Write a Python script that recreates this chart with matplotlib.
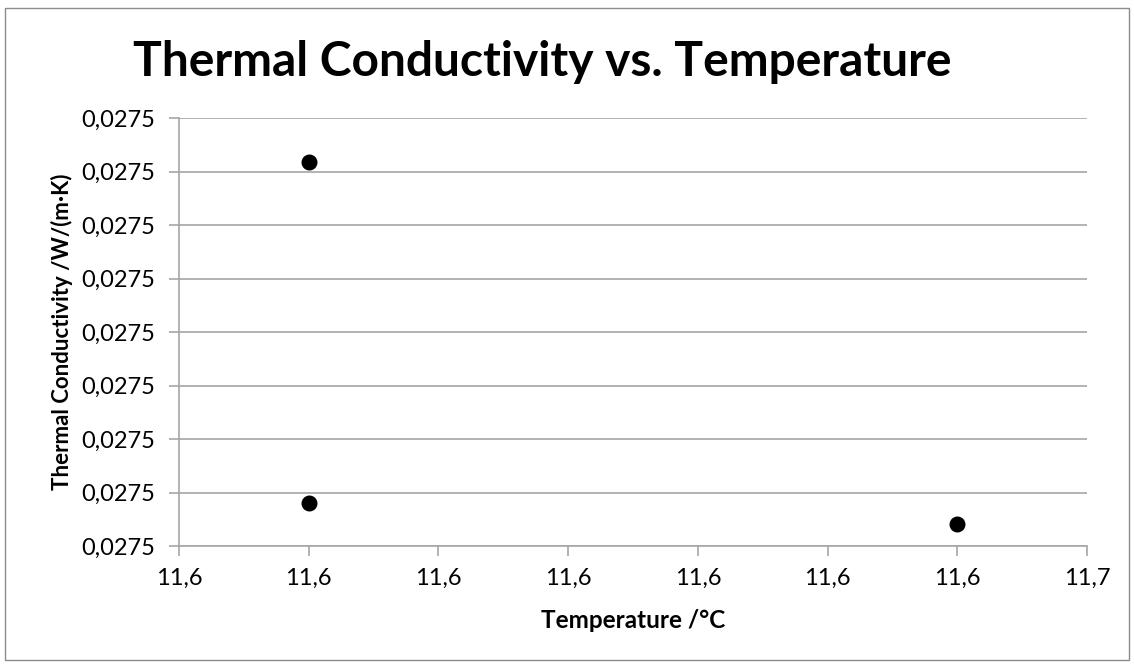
import matplotlib
matplotlib.use("Agg")
import matplotlib.pyplot as plt
from matplotlib.patches import Rectangle

plt.rcParams["font.family"] = ["Lato", "DejaVu Sans"]

# data (true values differ only past the displayed decimals)
temperature = [11.6465, 11.6465, 11.6490]
conductivity = [0.02750718, 0.02750080, 0.02750041]

x_ticks = [11.6460, 11.6465, 11.6470, 11.6475, 11.6480, 11.6485, 11.6490, 11.6495]
x_ticklabels = ["11,6", "11,6", "11,6", "11,6", "11,6", "11,6", "11,6", "11,7"]
y_ticks = [0.027500 + i * 0.000001 for i in range(9)]
y_ticklabels = ["0,0275"] * 9

grid_col = "#a6a6a6"

fig = plt.figure(figsize=(11.34, 6.66), dpi=100)
ax = fig.add_axes([179 / 1134, 1 - 546 / 666, (1087 - 179) / 1134, (546 - 118) / 666])

ax.scatter(temperature, conductivity, s=110, color="black", zorder=3, clip_on=False)

ax.set_xlim(x_ticks[0], x_ticks[-1])
ax.set_ylim(y_ticks[0], y_ticks[-1])
ax.set_xticks(x_ticks)
ax.set_xticklabels(x_ticklabels)
ax.set_yticks(y_ticks)
ax.set_yticklabels(y_ticklabels)

ax.grid(axis="y", color=grid_col, linewidth=1.2)
ax.set_axisbelow(True)
for side in ["top", "right"]:
    ax.spines[side].set_visible(False)
for side in ["left", "bottom"]:
    ax.spines[side].set_color(grid_col)
    ax.spines[side].set_linewidth(1.2)
ax.tick_params(axis="both", colors=grid_col, length=7, width=1.2, labelsize=17, labelcolor="black")
ax.tick_params(axis="x", pad=9)
ax.tick_params(axis="y", pad=10)

ax.set_xlabel("Temperature /°C", fontsize=17.5, fontweight="bold", labelpad=14)
ax.set_ylabel("Thermal Conductivity /W/(m·K)", fontsize=16, fontweight="bold", labelpad=6)

fig.text(542 / 1134, 1 - 62 / 666, "Thermal Conductivity vs. Temperature",
         fontsize=34.5, fontweight="bold", ha="center", va="center")

fig.patches.append(Rectangle((5 / 1134, 6 / 666), 1124 / 1134, 652 / 666,
                             transform=fig.transFigure, fill=False,
                             edgecolor="#8c8c8c", linewidth=1))

fig.savefig("out.png", dpi=100)
